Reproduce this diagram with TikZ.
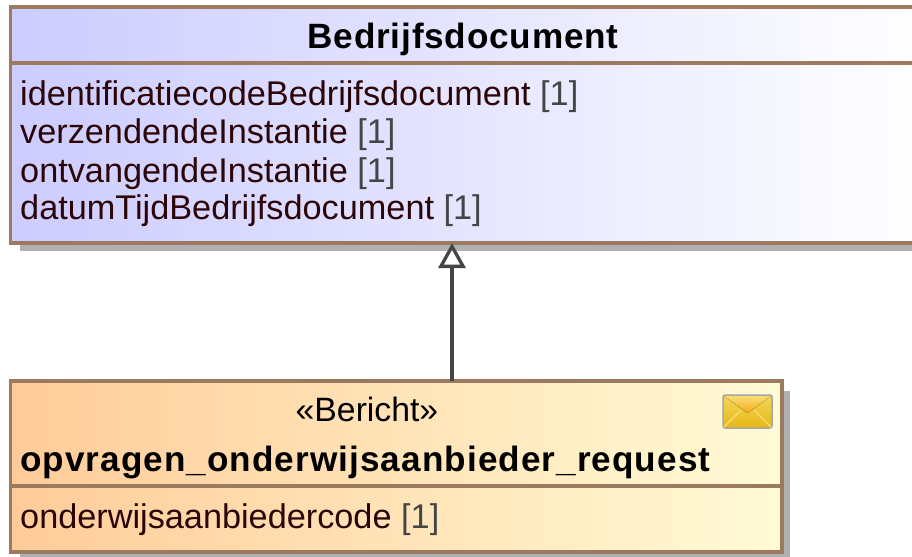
\documentclass[tikz,border=0pt]{standalone}
\usepackage{fontspec}
\setmainfont{Liberation Sans}
\newfontfamily\titlefont[LetterSpace=2.3]{Liberation Sans}
\newfontfamily\requestfont[LetterSpace=3.0]{Liberation Sans}
\usetikzlibrary{arrows.meta,calc}
\definecolor{classedge}{HTML}{9C7A5F}
\definecolor{attrtext}{HTML}{2B0508}
\definecolor{multtext}{HTML}{454545}
\definecolor{shadowgray}{HTML}{B0B0B0}
\definecolor{documentleft}{HTML}{CCCCFF}
\definecolor{requestleft}{HTML}{FFCC99}
\definecolor{requestright}{HTML}{FFFBD6}
\definecolor{envelopetop}{HTML}{F2D75C}
\definecolor{envelopebottom}{HTML}{E6B714}
\definecolor{flaptop}{HTML}{F6DE74}
\definecolor{flapbottom}{HTML}{F9A91A}
\tikzset{
  >={Triangle[open,length=0.25cm,width=0.27cm,fill=white]},
  classbox/.style={draw=classedge,line width=0.04cm,inner sep=0pt,outer sep=0pt},
  classline/.style={draw=classedge,line width=0.04cm},
  titletext/.style={anchor=base,inner sep=0pt,font=\titlefont\bfseries\fontsize{10pt}{12pt}\selectfont,text=black},
  attrtext/.style={anchor=base west,inner sep=0pt,font=\fontsize{9.75pt}{11pt}\selectfont,text=attrtext},
}
\newcommand{\attrmult}{ \textcolor{multtext}{[1]}}
\begin{document}
\begin{tikzpicture}
  \useasboundingbox (0,0) rectangle (9.12,5.56);
  \clip (0,0) rectangle (9.12,5.56);
  % shadows
  \fill[shadowgray] (0.2,3.05) rectangle (9.3,5.3);
  \fill[shadowgray] (0.2,-0.1) rectangle (7.9,1.65);
  % superclass
  \node[classbox,left color=documentleft,right color=white,minimum width=9.2cm,minimum height=2.36cm,anchor=north west]
    (bedrijfsdocument) at (0.105,5.49) {};
  \draw[classline] (bedrijfsdocument.west |- 0,4.93) -- (bedrijfsdocument.east |- 0,4.93);
  \node[titletext] (bedrijfsdocumenttitle) at (4.63,5.08) {Bedrijfsdocument};
  \node[attrtext] (identificatiecode) at (0.195,4.51) {identificatiecodeBedrijfsdocument\attrmult};
  \node[attrtext] (verzendende) at (0.195,4.13) {verzendendeInstantie\attrmult};
  \node[attrtext] (ontvangende) at (0.195,3.74) {ontvangendeInstantie\attrmult};
  \node[attrtext] (datumtijd) at (0.195,3.37) {datumTijdBedrijfsdocument\attrmult};
  % message
  \node[classbox,left color=requestleft,right color=requestright,minimum width=7.715cm,minimum height=1.71cm,anchor=north west]
    (request) at (0.105,1.75) {};
  \draw[classline] (request.west |- 0,0.7) -- (request.east |- 0,0.7);
  \node[anchor=base,inner sep=0pt,font=\fontsize{9.6pt}{11pt}\selectfont] (stereotype) at (3.67,1.35) {«Bericht»};
  \node[titletext,anchor=base west,font=\requestfont\bfseries\fontsize{10pt}{12pt}\selectfont] (requesttitle) at (0.195,0.85) {opvragen\_onderwijsaanbieder\_request};
  \node[attrtext] (onderwijsaanbiedercode) at (0.195,0.28) {onderwijsaanbiedercode\attrmult};
  % envelope
  \begin{scope}[line join=round]
    \fill[top color=envelopetop,bottom color=envelopebottom,draw=black!35,line width=0.015cm,rounded corners=0.02cm] (7.23,1.28) rectangle (7.72,1.61);
    \draw[flaptop,line width=0.012cm] (7.24,1.29) -- (7.41,1.46) (7.71,1.29) -- (7.54,1.46);
    \fill[top color=flaptop,bottom color=flapbottom] (7.24,1.6) -- (7.475,1.43) -- (7.71,1.6) -- cycle;
  \end{scope}
  % generalization
  \coordinate (requestfoot) at (4.52,1.75);
  \draw[->,draw=multtext,line width=0.033cm] (requestfoot) -- (requestfoot |- bedrijfsdocument.south);
\end{tikzpicture}
\end{document}
